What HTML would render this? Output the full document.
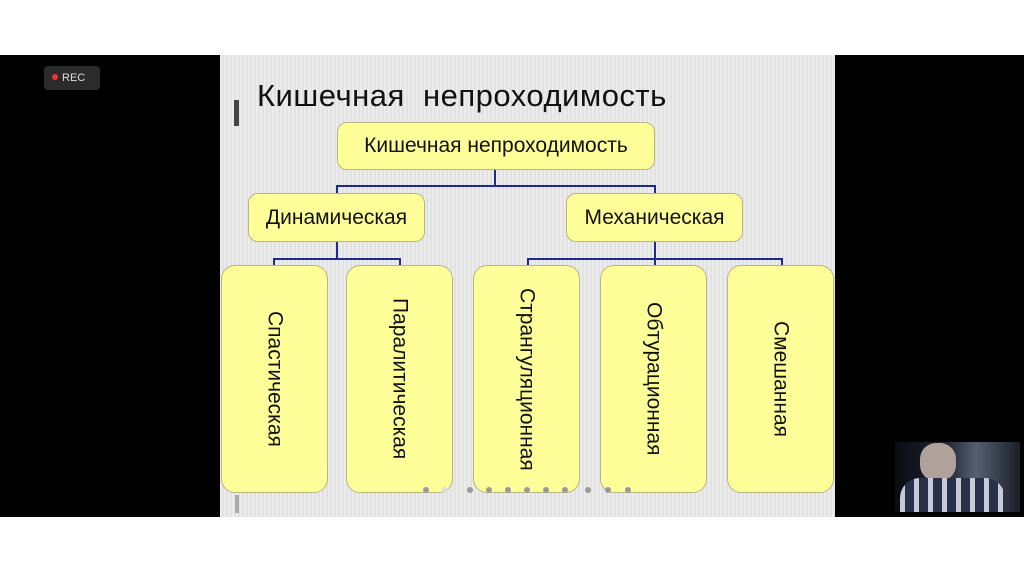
<!DOCTYPE html>
<html><head><meta charset="utf-8"><style>
*{margin:0;padding:0;box-sizing:border-box}
body{width:1024px;height:574px;background:#fff;position:relative;overflow:hidden;font-family:"Liberation Sans","DejaVu Sans",sans-serif}
.blk{position:absolute;left:0;top:55px;width:1024px;height:462px;background:#000}
.slide{position:absolute;left:220px;top:55px;width:615px;height:462px;background:repeating-linear-gradient(90deg,#ececec 0 2px,#e2e2e2 2px 4px)}
.box{position:absolute;background:#ffff99;border:1px solid #b9b680;border-radius:10px;color:#111;display:flex;align-items:center;justify-content:center;font-size:21px}
.leaf{top:265px;height:228px;width:107px;border-radius:14px}
.leaf span{writing-mode:vertical-rl;font-size:21px}
.l{position:absolute;background:#1f2a8a}
.rec{position:absolute;left:44px;top:66px;width:56px;height:24px;background:#2b2b2b;border-radius:4px;color:#ddd;font-size:11px;line-height:24px;padding-left:8px}
.rec:before{content:"";display:inline-block;width:6px;height:6px;border-radius:3px;background:#e33;margin-right:4px;vertical-align:1px}
.dot{position:absolute;top:487px;width:6px;height:6px;border-radius:3px;background:#999}
</style></head><body>
<div class="blk"></div>
<div class="rec">REC</div>
<div class="slide"></div>
<div style="position:absolute;left:234px;top:100px;width:5px;height:26px;background:#444"></div>
<div style="position:absolute;left:257px;top:78px;font-size:31px;color:#111;letter-spacing:0.5px">Кишечная&nbsp; непроходимость</div>
<div class="l" style="left:494px;top:170px;width:2px;height:16px"></div>
<div class="l" style="left:336px;top:185px;width:320px;height:2px"></div>
<div class="l" style="left:336px;top:185px;width:2px;height:8px"></div>
<div class="l" style="left:654px;top:185px;width:2px;height:8px"></div>
<div class="l" style="left:336px;top:242px;width:2px;height:17px"></div>
<div class="l" style="left:273px;top:258px;width:128px;height:2px"></div>
<div class="l" style="left:273px;top:258px;width:2px;height:7px"></div>
<div class="l" style="left:399px;top:258px;width:2px;height:7px"></div>
<div class="l" style="left:654px;top:242px;width:2px;height:23px"></div>
<div class="l" style="left:527px;top:258px;width:256px;height:2px"></div>
<div class="l" style="left:527px;top:258px;width:2px;height:7px"></div>
<div class="l" style="left:781px;top:258px;width:2px;height:7px"></div>
<div class="box" style="left:337px;top:122px;width:318px;height:48px">Кишечная непроходимость</div>
<div class="box" style="left:248px;top:193px;width:177px;height:49px">Динамическая</div>
<div class="box" style="left:566px;top:193px;width:177px;height:49px">Механическая</div>
<div class="box leaf" style="left:221px"><span>Спастическая</span></div>
<div class="box leaf" style="left:346px"><span>Паралитическая</span></div>
<div class="box leaf" style="left:473px"><span>Странгуляционная</span></div>
<div class="box leaf" style="left:600px"><span>Обтурационная</span></div>
<div class="box leaf" style="left:727px"><span>Смешанная</span></div>
<div class="dot" style="left:423px"></div><div class="dot" style="left:442px;background:#ddd"></div>
<div class="dot" style="left:467px"></div><div class="dot" style="left:486px"></div><div class="dot" style="left:505px"></div>
<div class="dot" style="left:524px"></div><div class="dot" style="left:543px"></div><div class="dot" style="left:562px"></div>
<div class="dot" style="left:585px"></div><div class="dot" style="left:605px"></div><div class="dot" style="left:625px"></div>
<div style="position:absolute;left:235px;top:495px;width:4px;height:18px;background:#aaa"></div>
<div style="position:absolute;left:895px;top:442px;width:125px;height:70px;background:linear-gradient(90deg,#0a0c12,#1e2430 40%,#556070 65%,#1a1f28);"></div>
<div style="position:absolute;left:920px;top:443px;width:36px;height:38px;border-radius:16px;background:#b0a29a"></div>
<div style="position:absolute;left:900px;top:478px;width:105px;height:34px;border-radius:20px 20px 0 0;background:repeating-linear-gradient(90deg,#c8cad8 0 5px,#2a3048 5px 14px)"></div>
</body></html>
